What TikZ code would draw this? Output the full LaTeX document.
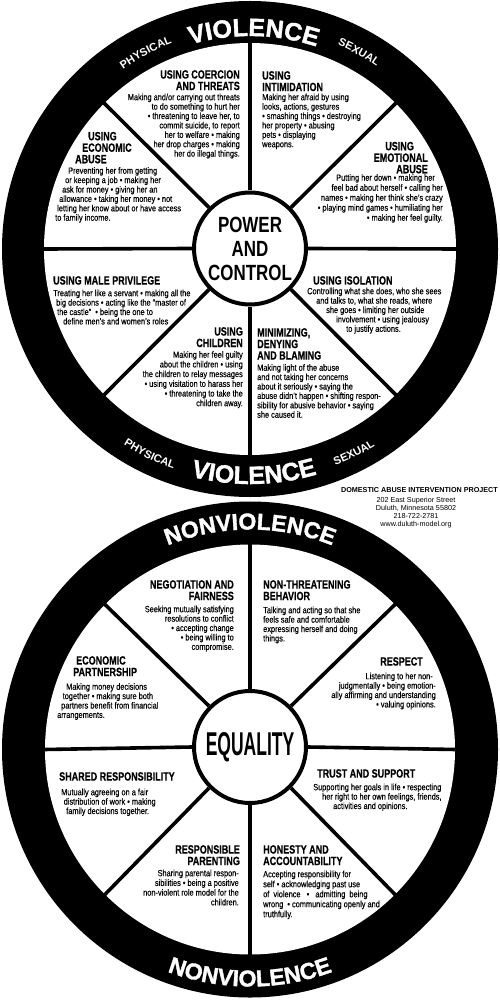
\documentclass[tikz,border=0pt]{standalone}
\usepackage{fontspec}
\setmainfont{Liberation Sans}
\newfontfamily\bodyfam{Liberation Sans}[FakeStretch=0.82, FakeBold=0.25]
\newfontfamily\titlefam{Liberation Sans}[FakeStretch=0.75, FakeBold=0.5]
\newfontfamily\hubfam{Liberation Sans}[FakeStretch=0.77]
\newfontfamily\eqfam{Liberation Sans}[FakeStretch=0.53]
\newfontfamily\ringfam{Liberation Sans}[FakeBold=1.5]
\newfontfamily\smallringfam{Liberation Sans}[LetterSpace=15]
\newcommand\ringbig{\ringfam\bfseries\fontsize{25}{25}\selectfont}
\newcommand\ringmid{\ringfam\bfseries\fontsize{23}{23}\selectfont}
\newcommand\ringsmall{\smallringfam\bfseries\fontsize{11}{11}\selectfont}
\usetikzlibrary{decorations.text}
\tikzset{
  ttl/.style={font=\titlefam\bfseries\fontsize{12}{11.5}\selectfont, inner sep=0pt},
  bdy/.style={font=\bodyfam\fontsize{9}{9.4}\selectfont, inner sep=0pt},
  bdyten/.style={font=\bodyfam\fontsize{9}{10}\selectfont, inner sep=0pt},
  hub/.style={circle, draw, line width=4pt, fill=white, minimum size=112pt, inner sep=0pt, align=center},
  spoke/.style={line width=3.6pt},
}
\begin{document}
\begin{tikzpicture}[x=1pt,y=1pt]
\useasboundingbox (0,0) rectangle (500,-1000);
\fill[white] (0,0) rectangle (500,-1000);

% ---------------- top wheel ----------------
\coordinate (ctop) at (250,-249);
\fill[black] (ctop) circle[radius=248];
\fill[white] (ctop) circle[radius=206];
\node[hub, font=\hubfam\bfseries\fontsize{22}{24}\selectfont] (hubtop) at (250,-248.5) {POWER\\AND\\CONTROL};
\foreach \a in {0,45,...,315} \draw[spoke] (hubtop.\a) -- ([shift={(\a:207)}]ctop);

\path[decorate, decoration={text along path, text align=center, text color=white, text={|\ringbig|VIOLENCE}}]
  ([shift={(130:213)}]ctop) arc[start angle=130, end angle=48, radius=213];
\path[decorate, decoration={text along path, text align=center, text color=white, text={|\ringsmall|PHYSICAL}}]
  ([shift={(138:220)}]ctop) arc[start angle=138, end angle=98, radius=220];
\path[decorate, decoration={text along path, text align=center, text color=white, text={|\ringsmall|SEXUAL}}]
  ([shift={(81:222)}]ctop) arc[start angle=81, end angle=41, radius=222];
\path[decorate, decoration={text along path, text align=center, text color=white, text={|\ringbig|VIOLENCE}}]
  ([shift={(230:235)}]ctop) arc[start angle=230, end angle=312, radius=235];
\path[decorate, decoration={text along path, text align=center, text color=white, text={|\ringsmall|PHYSICAL}}]
  ([shift={(224:233)}]ctop) arc[start angle=224, end angle=264, radius=233];
\path[decorate, decoration={text along path, text align=center, text color=white, text={|\ringsmall|SEXUAL}}]
  ([shift={(277:233)}]ctop) arc[start angle=277, end angle=317, radius=233];

\node[ttl, align=right, anchor=north east] (coerT) at (240,-70) {USING COERCION\\AND THREATS};
\node[bdy, align=right, anchor=north east] (coerB) at (240,-93.5) {Making and/or carrying out threats\\to do something to hurt her\\• threatening to leave her, to\\commit suicide, to report\\her to welfare • making\\her drop charges • making\\her do illegal things.};

\node[ttl, align=left, anchor=north west] (intiT) at (262,-71) {USING\\INTIMIDATION};
\node[bdy, align=left, anchor=north west] (intiB) at (262,-93.5) {Making her afraid by using\\looks, actions, gestures\\• smashing things • destroying\\her property • abusing\\pets • displaying\\weapons.};

\node[ttl, align=right, anchor=north east] (emoT) at (428,-141.7) {USING\hspace*{14pt}\\EMOTIONAL\hspace*{6pt}\\ABUSE};
\node[bdyten, align=right, anchor=north east] (emoB) at (443,-174) {Putting her down • making her\hspace*{8pt}\\feel bad about herself • calling her\hspace*{3pt}\\names • making her think she’s crazy\\• playing mind games • humiliating her\\• making her feel guilty.};

\node[ttl, align=left, anchor=north west] (ecoT) at (75,-131.7) {\hspace*{13pt}USING\\\hspace*{7pt}ECONOMIC\\ABUSE};
\node[bdy, align=left, anchor=north west] (ecoB) at (55,-167) {\hspace*{13pt}Preventing her from getting\\\hspace*{10pt}or keeping a job • making her\\\hspace*{7pt}ask for money • giving her an\\\hspace*{4pt}allowance • taking her money • not\\\hspace*{2pt}letting her know about or have access\\to family income.};

\node[ttl, anchor=north west] (maleT) at (53,-276) {USING MALE PRIVILEGE};
\node[bdy, align=left, anchor=north west] (maleB) at (53,-289.5) {Treating her like a servant • making all the\\\hspace*{3pt}big decisions • acting like the “master of\\\hspace*{4pt}the castle”\ \ • being the one to\\\hspace*{10pt}define men’s and women’s roles};

\node[ttl, align=right, anchor=north east] (childT) at (243,-327) {USING\\CHILDREN};
\node[bdy, align=right, anchor=north east, font=\bodyfam\fontsize{9}{9.7}\selectfont] (childB) at (243,-351) {Making her feel guilty\\about the children • using\\the children to relay messages\\• using visitation to harass her\\• threatening to take the\\children away.};

\node[ttl, align=left, anchor=north west] (minT) at (257,-328) {MINIMIZING,\\DENYING\\AND BLAMING};
\node[bdy, align=left, anchor=north west] (minB) at (257,-364) {Making light of the abuse\\and not taking her concerns\\about it seriously • saying the\\abuse didn’t happen • shifting respon-\\sibility for abusive behavior • saying\\she caused it.};

\node[ttl, anchor=north west] (isoT) at (313,-276) {USING ISOLATION};
\node[bdy, align=left, anchor=north west] (isoB) at (307,-287.5) {Controlling what she does, who she sees\\\hspace*{9pt}and talks to, what she reads, where\\\hspace*{19pt}she goes • limiting her outside\\\hspace*{29pt}involvement • using jealousy\\\hspace*{39pt}to justify actions.};

% ---------------- address ----------------
\node[font=\bfseries\fontsize{7.2}{8}\selectfont, inner sep=0pt, anchor=north east] (dapT) at (498,-487.5) {DOMESTIC ABUSE INTERVENTION PROJECT};
\node[font=\fontsize{7.2}{8}\selectfont, inner sep=0pt, align=center, anchor=north] (dapB) at (416,-497.5) {202 East Superior Street\\Duluth, Minnesota 55802\\218-722-2781\\www.duluth-model.org};

% ---------------- bottom wheel ----------------
\coordinate (cbot) at (250,-749.5);
\fill[black] (cbot) circle[radius=248];
\fill[white] (cbot) circle[radius=205];
\node[hub, font=\eqfam\bfseries\fontsize{33}{33}\selectfont] (hubbot) at (250,-747) {EQUALITY};
\foreach \a in {0,45,...,315} \draw[spoke] (hubbot.\a) -- ([shift={(\a:206)}]cbot);

\path[decorate, decoration={text along path, text align=center, text color=white, text={|\ringmid|NONVIOLENCE}}]
  ([shift={(140:220)}]cbot) arc[start angle=140, end angle=40, radius=220];
\path[decorate, decoration={text along path, text align=center, text color=white, text={|\ringmid|NONVIOLENCE}}]
  ([shift={(220:237)}]cbot) arc[start angle=220, end angle=320, radius=237];

\node[ttl, align=right, anchor=north east] (negT) at (234,-580) {NEGOTIATION AND\\FAIRNESS};
\node[bdy, align=right, anchor=north east] (negB) at (234,-605.5) {Seeking mutually satisfying\\resolutions to conflict\\• accepting change\\• being willing to\\compromise.};

\node[ttl, align=left, anchor=north west] (ecpT) at (73,-656) {\hspace*{3pt}ECONOMIC\\PARTNERSHIP};
\node[bdy, align=left, anchor=north west] (ecpB) at (57,-683) {\hspace*{9pt}Making money decisions\\\hspace*{5.5pt}together • making sure both\\\hspace*{4pt}partners benefit from financial\\arrangements.};

\node[ttl, align=left, anchor=north west] (nonT) at (263,-580) {NON-THREATENING\\BEHAVIOR};
\node[bdy, align=left, anchor=north west] (nonB) at (263,-606.5) {Talking and acting so that she\\feels safe and comfortable\\expressing herself and doing\\things.};

\node[ttl, anchor=north east] (resT) at (423,-657) {RESPECT};
\node[bdy, align=right, anchor=north east] (resB) at (436,-672.5) {Listening to her non-\hspace*{3pt}\\judgmentally • being emotion-\hspace*{2pt}\\ally affirming and understanding\\• valuing opinions.};

\node[ttl, anchor=north west] (shaT) at (59,-772) {SHARED RESPONSIBILITY};
\node[bdy, align=left, anchor=north west] (shaB) at (61,-788.5) {Mutually agreeing on a fair\\\hspace*{2.5pt}distribution of work • making\\\hspace*{5pt}family decisions together.};

\node[ttl, align=right, anchor=north east] (parT) at (240,-845) {RESPONSIBLE\\PARENTING};
\node[bdy, align=right, anchor=north east, font=\bodyfam\fontsize{9}{9.7}\selectfont] (parB) at (239,-869.5) {Sharing parental respon-\\sibilities • being a positive\\non-violent role model for the\\children.};

\node[ttl, anchor=north west] (truT) at (317,-769) {TRUST AND SUPPORT};
\node[bdy, align=left, anchor=north west] (truB) at (313,-783.5) {Supporting her goals in life • respecting\\\hspace*{9pt}her right to her own feelings, friends,\\\hspace*{20pt}activities and opinions.};

\node[ttl, align=left, anchor=north west] (honT) at (263,-845) {HONESTY AND\\ACCOUNTABILITY};
\node[bdyten, align=left, anchor=north west] (honB) at (263,-870.5) {Accepting responsibility for\\self • acknowledging past use\\of\ \ violence\ \ \ •\ \ \ admitting\ \ being\\wrong\ \ • communicating openly and\\truthfully.};
\end{tikzpicture}
\end{document}
